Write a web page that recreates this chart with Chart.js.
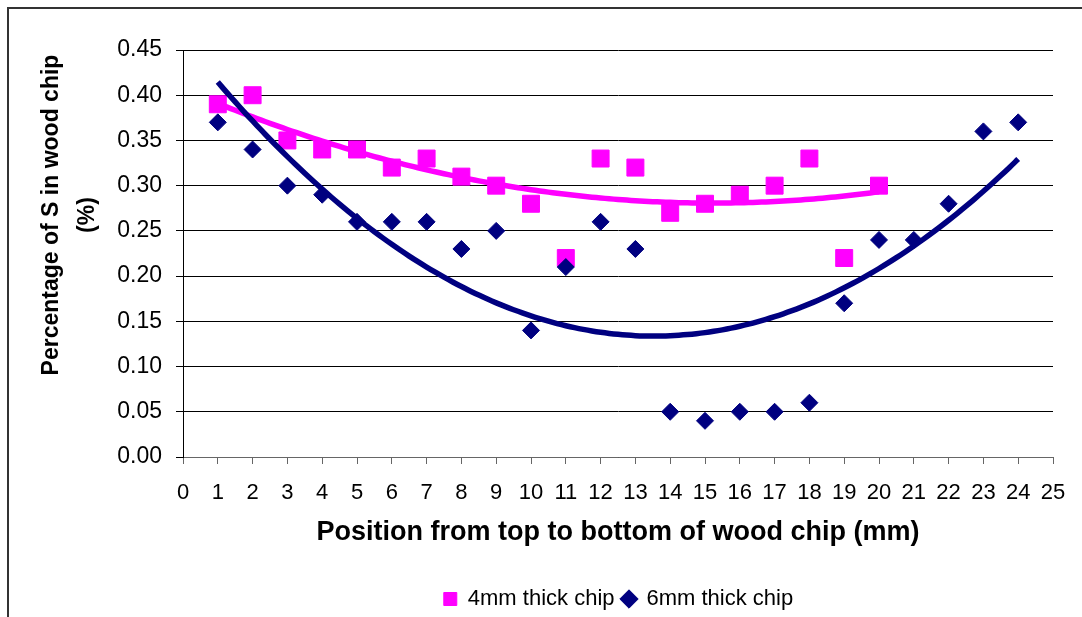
<!DOCTYPE html>
<html>
<head>
<meta charset="utf-8">
<script src="https://cdn.jsdelivr.net/npm/chart.js@4/dist/chart.umd.min.js"></script>
<style>
  html, body { margin: 0; padding: 0; background: #fff; }
  #wrap { position: relative; width: 1082px; height: 617px; }
  #frame { position: absolute; left: 7px; top: 7px; right: 0; bottom: 0;
           border-top: 2px solid #333; border-left: 2px solid #333; pointer-events: none; }
  canvas { position: absolute; left: 0; top: 0; }
</style>
</head>
<body>
<div id="wrap">
  <canvas id="chart" width="1082" height="617"></canvas>
  <div id="frame"></div>
</div>
<script>
const positions4mm = [1, 2, 3, 4, 5, 6, 7, 8, 9, 10, 11, 12, 13, 14, 15, 16, 17, 18, 19, 20];
const sulphur4mm = [0.39, 0.40, 0.35, 0.34, 0.34, 0.32, 0.33, 0.31, 0.30, 0.28,
                    0.22, 0.33, 0.32, 0.27, 0.28, 0.29, 0.30, 0.33, 0.22, 0.30];

const positions6mm = [1, 2, 3, 4, 5, 6, 7, 8, 9, 10, 11, 12, 13, 14, 15, 16, 17, 18, 19, 20, 21, 22, 23, 24];
const sulphur6mm = [0.37, 0.34, 0.30, 0.29, 0.26, 0.26, 0.26, 0.23, 0.25, 0.14, 0.21, 0.26,
                    0.23, 0.05, 0.04, 0.05, 0.05, 0.06, 0.17, 0.24, 0.24, 0.28, 0.36, 0.37];

const seriesNames = ['4mm thick chip', '6mm thick chip'];
const xTitle = 'Position from top to bottom of wood chip (mm)';
const yTitleLines = ['Percentage of S in wood chip', '(%)'];

const pink = '#FF00FF';
const navy = '#000080';
const fontFamily = '"Liberation Sans", Arial, sans-serif';

// least squares 2nd order polynomial, like the Excel trendline
function fitQuadratic(xs, ys) {
    let s = [0, 0, 0, 0, 0], t = [0, 0, 0];
    xs.forEach((x, i) => {
        for (let k = 0; k < 5; k++) s[k] += Math.pow(x, k);
        for (let k = 0; k < 3; k++) t[k] += Math.pow(x, k) * ys[i];
    });
    const m = [[s[0], s[1], s[2], t[0]], [s[1], s[2], s[3], t[1]], [s[2], s[3], s[4], t[2]]];
    for (let c = 0; c < 3; c++) {
        for (let r = c + 1; r < 3; r++) {
            const f = m[r][c] / m[c][c];
            for (let k = c; k < 4; k++) m[r][k] -= f * m[c][k];
        }
    }
    const coef = [0, 0, 0];
    for (let r = 2; r >= 0; r--) {
        let v = m[r][3];
        for (let k = r + 1; k < 3; k++) v -= m[r][k] * coef[k];
        coef[r] = v / m[r][r];
    }
    return coef;
}

function trendPoints(xs, ys) {
    const c = fitQuadratic(xs, ys);
    const pts = [];
    const x0 = xs[0], x1 = xs[xs.length - 1];
    for (let x = x0; x <= x1 + 1e-9; x += 0.25) {
        pts.push({ x: x, y: c[0] + c[1] * x + c[2] * x * x });
    }
    return pts;
}

const toPoints = (xs, ys) => xs.map((x, i) => ({ x: x, y: ys[i] }));

const yTitlePlugin = {
    id: 'yTitle',
    afterLayout(chart) {
        // legend sits under the plot centre, not the canvas centre
        const lg = chart.legend;
        const dx = 92, dy = 9;
        lg.left += dx; lg.right += dx;
        lg.top += dy; lg.bottom += dy;
    },
    afterDraw(chart) {
        const ctx = chart.ctx;
        ctx.save();
        ctx.font = 'bold 23px ' + fontFamily;
        ctx.fillStyle = '#000';
        ctx.textAlign = 'center';
        ctx.textBaseline = 'middle';
        ctx.translate(52, 215);
        ctx.rotate(-Math.PI / 2);
        ctx.fillText(yTitleLines[0], 0, 0);
        ctx.fillText(yTitleLines[1], 0, 36);
        ctx.restore();
    }
};

new Chart(document.getElementById('chart'), {
    type: 'scatter',
    data: {
        datasets: [
            {
                label: seriesNames[0],
                data: toPoints(positions4mm, sulphur4mm),
                pointStyle: 'rect',
                pointRadius: 12,
                pointBackgroundColor: pink,
                pointBorderColor: pink,
                pointBorderWidth: 1,
                backgroundColor: pink,
                borderColor: pink,
                order: 3
            },
            {
                label: seriesNames[1],
                data: toPoints(positions6mm, sulphur6mm),
                pointStyle: 'rectRot',
                pointRadius: 8.5,
                pointBackgroundColor: navy,
                pointBorderColor: navy,
                pointBorderWidth: 1,
                backgroundColor: navy,
                borderColor: navy,
                order: 2
            },
            {
                label: 'trend4',
                data: trendPoints(positions4mm, sulphur4mm),
                showLine: true,
                pointRadius: 0,
                borderColor: pink,
                borderWidth: 5.5,
                tension: 0.4,
                order: 1
            },
            {
                label: 'trend6',
                data: trendPoints(positions6mm, sulphur6mm),
                showLine: true,
                pointRadius: 0,
                borderColor: navy,
                borderWidth: 5.5,
                tension: 0.4,
                order: 0
            }
        ]
    },
    options: {
        responsive: false,
        animation: false,
        layout: { padding: { left: 0, right: 29, top: 50, bottom: 6 } },
        plugins: {
            tooltip: { enabled: false },
            legend: {
                position: 'bottom',
                labels: {
                    filter: item => item.datasetIndex < 2,
                    sort: (a, b) => a.datasetIndex - b.datasetIndex,
                    usePointStyle: true,
                    boxWidth: 13,
                    boxHeight: 13,
                    padding: 8,
                    color: '#000',
                    font: { family: fontFamily, size: 22 }
                }
            }
        },
        scales: {
            x: {
                type: 'linear',
                min: 0,
                max: 25,
                afterFit: scale => { scale.height = 114; },
                ticks: {
                    stepSize: 1,
                    padding: 16,
                    maxRotation: 0,
                    color: '#000',
                    font: { family: fontFamily, size: 22 }
                },
                grid: { drawOnChartArea: false, drawTicks: true, tickLength: 7, color: '#666' },
                border: { color: '#666', width: 1 },
                title: {
                    display: true,
                    text: xTitle,
                    color: '#000',
                    padding: { top: 0, bottom: 22 },
                    font: { family: fontFamily, size: 27, weight: 'bold' }
                }
            },
            y: {
                min: 0,
                max: 0.45,
                afterFit: scale => { scale.width = 183; },
                ticks: {
                    stepSize: 0.05,
                    padding: 14,
                    color: '#000',
                    font: { family: fontFamily, size: 23 },
                    callback: v => v.toFixed(2)
                },
                grid: { color: '#000', lineWidth: 1, tickLength: 7 },
                border: { color: '#000', width: 1 }
            }
        }
    },
    plugins: [yTitlePlugin]
});
</script>
</body>
</html>
